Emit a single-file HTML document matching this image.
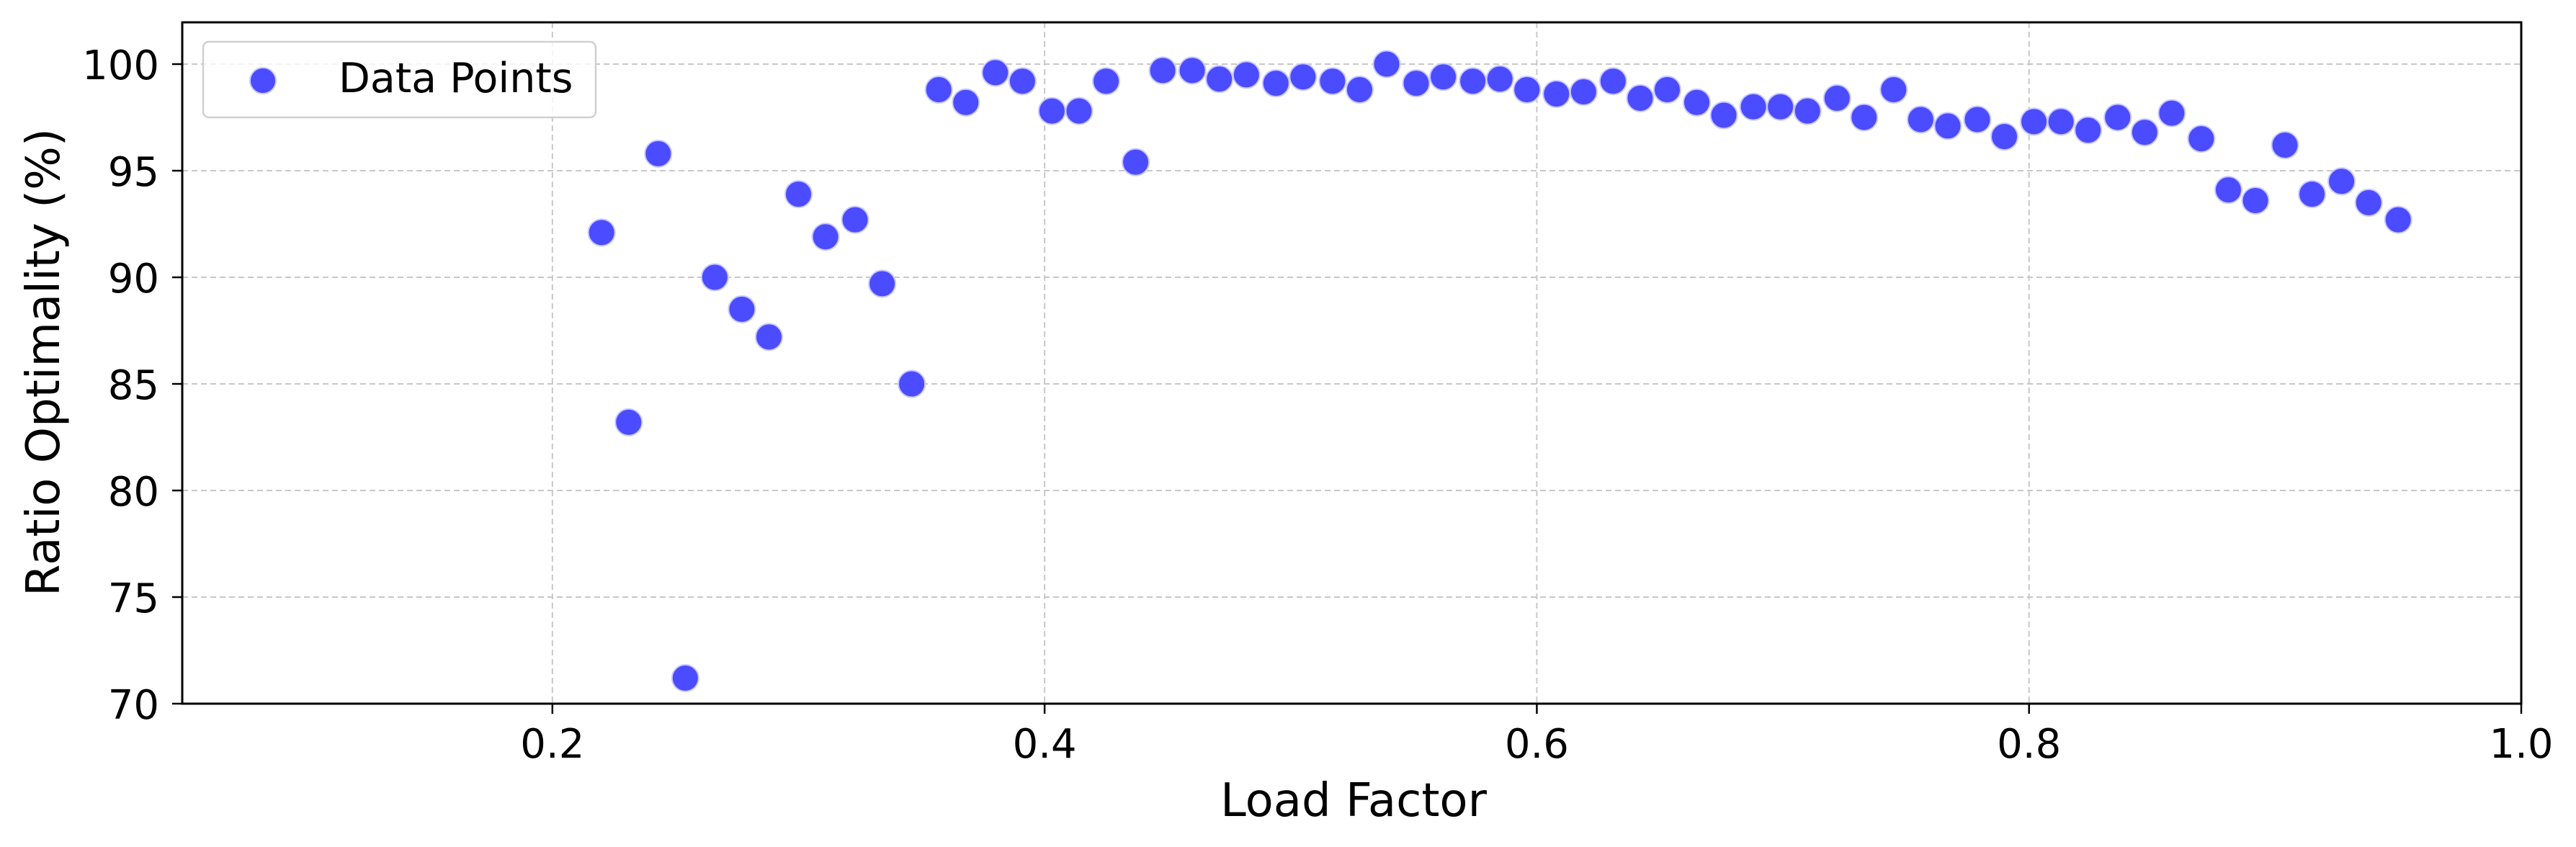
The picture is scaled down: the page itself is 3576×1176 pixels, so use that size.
<!DOCTYPE html>
<html><head><meta charset="utf-8"><style>
html,body{margin:0;padding:0;background:#fff;}
svg{display:block;font-family:"DejaVu Sans","Liberation Sans",sans-serif;}
</style></head><body>
<svg id="chart" width="3576" height="1176" viewBox="0 0 3576 1176">
<g id="grid"></g>
<g id="points"></g>
<rect x="253" y="31" width="3247" height="946" fill="none" stroke="#000" stroke-width="3"/>
<g id="xticks"></g>
<g id="yticks"></g>
<text x="1879" y="1133" font-size="64" text-anchor="middle">Load Factor</text>
<text transform="translate(82,503) rotate(-90)" font-size="64" text-anchor="middle">Ratio Optimality (%)</text>
<g>
<rect x="282" y="58" width="545" height="105" rx="8" fill="#fff" fill-opacity="0.8" stroke="#d0d0d0" stroke-width="2.5"/>
<circle cx="365" cy="112" r="18" fill="#4b4bff" stroke="#c8c8ff" stroke-width="2"/>
<text x="470" y="128" font-size="57">Data Points</text>
</g>
</svg>
<script>
const loadFactors = [0.220,0.231,0.243,0.254,0.266,0.277,0.288,0.300,0.311,0.323,0.334,0.346,0.357,0.368,0.380,0.391,0.403,0.414,0.425,0.437,0.448,0.460,0.471,0.482,0.494,0.505,0.517,0.528,0.539,0.551,0.562,0.574,0.585,0.596,0.608,0.619,0.631,0.642,0.653,0.665,0.676,0.688,0.699,0.710,0.722,0.733,0.745,0.756,0.767,0.779,0.790,0.802,0.813,0.824,0.836,0.847,0.858,0.870,0.881,0.892,0.904,0.915,0.927,0.938,0.950];
const ratioValues = [92.1,83.2,95.8,71.2,90.0,88.5,87.2,93.9,91.9,92.7,89.7,85.0,98.8,98.2,99.6,99.2,97.8,97.8,99.2,95.4,99.7,99.7,99.3,99.5,99.1,99.4,99.2,98.8,100.0,99.1,99.4,99.2,99.3,98.8,98.6,98.7,99.2,98.4,98.8,98.2,97.6,98.0,98.0,97.8,98.4,97.5,98.8,97.4,97.1,97.4,96.6,97.3,97.3,96.9,97.5,96.8,97.7,96.5,94.1,93.6,96.2,93.9,94.5,93.5,92.7];
const xTickValues = [0.2,0.4,0.6,0.8,1.0];
const xTickLabels = ["0.2","0.4","0.6","0.8","1.0"];
const yTickValues = [70,75,80,85,90,95,100];
const yTickLabels = ["70","75","80","85","90","95","100"];

const NS="http://www.w3.org/2000/svg";
const X0=253,X1=3500,Y0=977,Y1=31;
const xMin=0.0496,xMax=1.0,yMin=70,yMax=101.96;
function xs(v){return X0+(v-xMin)/(xMax-xMin)*(X1-X0);}
function ys(v){return Y0-(v-yMin)/(yMax-yMin)*(Y0-Y1);}
function mk(tag,attrs,parent){const e=document.createElementNS(NS,tag);for(const k in attrs)e.setAttribute(k,attrs[k]);parent.appendChild(e);return e;}
const grid=document.getElementById('grid'),xt=document.getElementById('xticks'),yt=document.getElementById('yticks'),pts=document.getElementById('points');
xTickValues.forEach((v,i)=>{
  const x=xs(v);
  const g=mk('line',{x1:x,x2:x,y1:Y1,y2:Y0,stroke:'#c8c8c8','stroke-width':2,'stroke-dasharray':'8 5'},grid);
  
  
  const t=mk('line',{x1:x,x2:x,y1:Y0,y2:Y0+14,stroke:'#000','stroke-width':2.5},xt);
  
  
  const l=mk('text',{x:x,y:1052,'font-size':56,'text-anchor':'middle'},xt);
  l.textContent=xTickLabels[i];
  
  
});
yTickValues.forEach((v,i)=>{
  const y=ys(v);
  const g=mk('line',{x1:X0,x2:X1,y1:y,y2:y,stroke:'#c8c8c8','stroke-width':2,'stroke-dasharray':'8 5'},grid);
  
  
  const t=mk('line',{x1:X0-14,x2:X0,y1:y,y2:y,stroke:'#000','stroke-width':2.5},yt);
  
  
  const l=mk('text',{x:221,y:y+21,'font-size':56,'text-anchor':'end'},yt);
  l.textContent=yTickLabels[i];
  
  
});
loadFactors.forEach((v,i)=>{
  const c=mk('circle',{cx:xs(v),cy:ys(ratioValues[i]),r:18.5,fill:'#4b4bff',stroke:'#c8c8ff','stroke-width':2},pts);
  
  
});
</script>
</body></html>
